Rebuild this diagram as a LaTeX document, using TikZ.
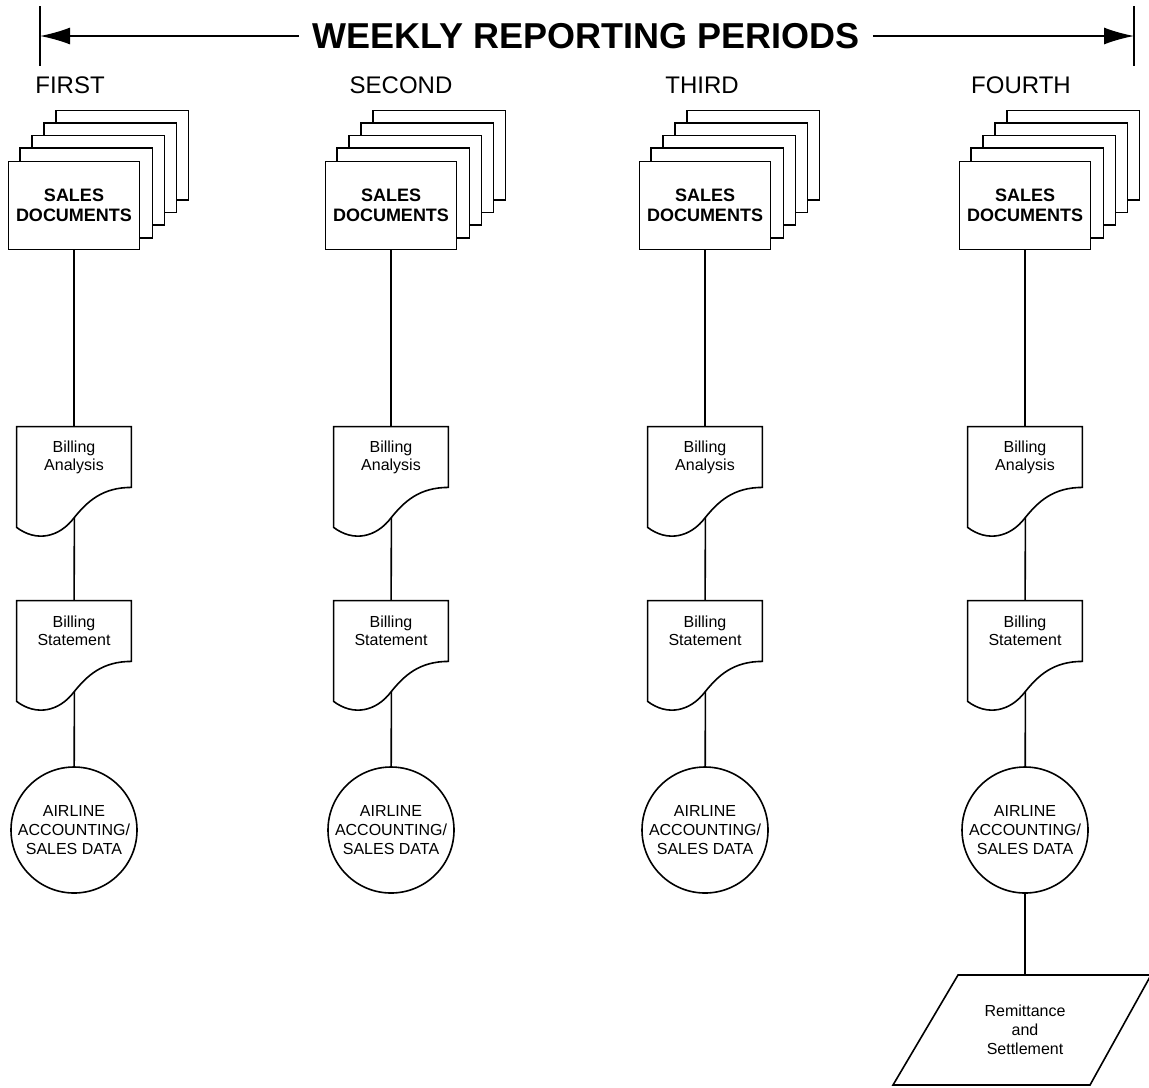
\documentclass[tikz,border=0pt]{standalone}
\usepackage{fontspec}
\setmainfont{Liberation Sans}
\usetikzlibrary{calc}
\usetikzlibrary{arrows.meta}
\pgfdeclarelayer{back}
\pgfsetlayers{back,main}
\tikzstyle{wire} = [line width=0.8pt]
\tikzstyle{heading} = [inner xsep=6.5pt, font=\bfseries\fontsize{18}{20}\selectfont]
\tikzstyle{period} = [font=\fontsize{12}{14}\selectfont]
\tikzstyle{sales} = [draw, wire, fill=white, rectangle, minimum width=65.5pt,
    minimum height=44pt, align=center, font=\bfseries\fontsize{9}{10}\selectfont]
\tikzstyle{report} = [rectangle, minimum width=57pt, minimum height=30pt,
    align=center, font=\fontsize{8}{9}\selectfont]
\tikzstyle{data} = [draw, wire, circle, minimum size=63pt, inner sep=0pt,
    align=center, font=\fontsize{8}{9.5}\selectfont]
\tikzstyle{io} = [rectangle, minimum height=55pt, align=center,
    font=\fontsize{8}{9.5}\selectfont]
% document symbol with a wavy foot, round a report node
\newcommand{\docoutline}[1]{%
  \draw[wire] ([yshift=-20pt]#1.south west) -- (#1.north west) -- (#1.north east)
    -- (#1.south east)
    .. controls +(-14.5pt,0pt) and +(6.5pt,8pt) .. ([xshift=-28.5pt,yshift=-15pt]#1.south east)
    coordinate (#1-wave)
    .. controls +(-7.5pt,-10pt) and +(10pt,-7.5pt) .. ([yshift=-20pt]#1.south west)
    -- cycle;}

\begin{document}
\begin{tikzpicture}[x=0.5pt, y=-0.5pt]
    \useasboundingbox (0,0) rectangle (1149,1087);
    % The heading and its two arrows
    \node [heading] (title) at (586,36) {WEEKLY REPORTING PERIODS};
    \coordinate (ltop) at (40,6);
    \coordinate (lbot) at (40,66);
    \coordinate (lmid) at (40,36);
    \coordinate (rtop) at (1134,6);
    \coordinate (rbot) at (1134,66);
    \coordinate (rmid) at (1134,36);
    \draw [wire] (ltop) -- (lbot);
    \draw [wire] (rtop) -- (rbot);
    \draw [wire, -{Latex[length=15pt,width=8.5pt]}] (title) -- (lmid);
    \draw [wire, -{Latex[length=15pt,width=8.5pt]}] (title) -- (rmid);

    % One column for each week
    \foreach \x/\lx/\i/\lab in {74/70/1/FIRST, 391/401/2/SECOND,
        705/702/3/THIRD, 1025/1021/4/FOURTH} {
      \node [period] (wk\i) at (\lx,85) {\lab};
      \node [sales] (sd\i) at (\x,205.5) {SALES\\DOCUMENTS};
      \begin{pgfonlayer}{back}
        \foreach \k in {4,3,2,1}
          \draw [wire, fill=white] ([shift={(\k*6pt,\k*6.3pt)}]sd\i.south west)
            rectangle ([shift={(\k*6pt,\k*6.3pt)}]sd\i.north east);
      \end{pgfonlayer}
      \node [report] (ba\i) at (\x,457) {Billing\\Analysis};
      \docoutline{ba\i}
      \node [report] (bs\i) at (\x,631) {Billing\\Statement};
      \docoutline{bs\i}
      \node [data] (ad\i) at (\x,830) {AIRLINE\\ACCOUNTING/\\SALES DATA};

      \draw [wire] (sd\i) -- (ba\i);
      \draw [wire] (ba\i-wave) -- (bs\i);
      \draw [wire] (bs\i-wave) -- (ad\i);
    }

    % Only the last week goes on to settlement
    \node [io] (rs) at (1025,1030) {Remittance\\and\\Settlement};
    \draw [wire] ([shift={(-33.5pt,27.5pt)}]rs.center) -- ([shift={(63pt,27.5pt)}]rs.center)
      -- ([shift={(32.5pt,-27.5pt)}]rs.center) -- ([shift={(-66pt,-27.5pt)}]rs.center) -- cycle;
    \draw [wire] (ad4) -- (rs);
\end{tikzpicture}
\end{document}
